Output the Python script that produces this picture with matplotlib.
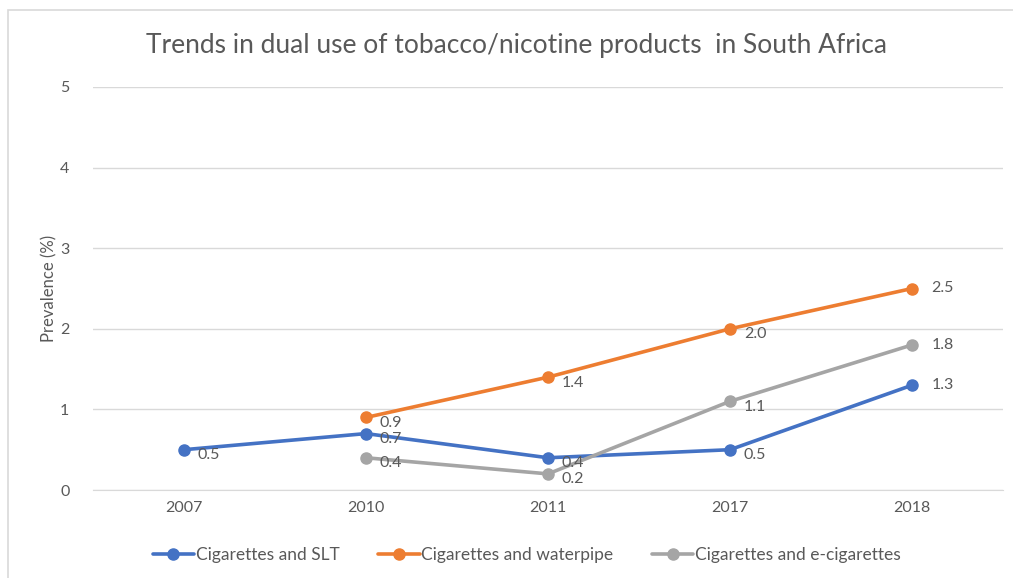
import matplotlib.pyplot as plt
from matplotlib.patches import Rectangle
import numpy as np

years = ['2007', '2010', '2011', '2017', '2018']
slt = [0.5, 0.7, 0.4, 0.5, 1.3]
waterpipe = [None, 0.9, 1.4, 2.0, 2.5]
ecig = [None, 0.4, 0.2, 1.1, 1.8]

series = [
    ('Cigarettes and SLT', slt, '#4472C4'),
    ('Cigarettes and waterpipe', waterpipe, '#ED7D31'),
    ('Cigarettes and e-cigarettes', ecig, '#A5A5A5'),
]

text_col = '#595959'
plt.rcParams['font.family'] = ['Lato', 'DejaVu Sans']

fig = plt.figure(figsize=(10.13, 5.78), dpi=100)
ax = fig.add_axes([93 / 1013, 1 - 490 / 578, 910 / 1013, 403 / 578])

# chart frame like the excel box
fig.patches.append(Rectangle((8 / 1013, -0.02), 1.02, 1 - 10 / 578 + 0.02,
                             transform=fig.transFigure, fill=False,
                             edgecolor='#D9D9D9', lw=1.2))

x = np.arange(len(years))
for name, vals, col in series:
    xs = [i for i, v in zip(x, vals) if v is not None]
    ys = [v for v in vals if v is not None]
    ax.plot(xs, ys, color=col, lw=2.6, marker='o', ms=8, label=name,
            solid_capstyle='round', zorder=3)
    for i, v in zip(xs, ys):
        if i == len(years) - 1:
            off = (14, 0)
        else:
            off = (10, -4)
        ax.annotate('%.1f' % v, (i, v), xytext=off, textcoords='offset points',
                    ha='left', va='center', fontsize=11.5, color=text_col, zorder=4)

ax.set_xlim(-0.5, len(years) - 0.5)
ax.set_ylim(0, 5)
ax.set_xticks(x)
ax.set_xticklabels(years)
ax.set_yticks(range(6))
ax.tick_params(length=0, colors=text_col, labelsize=11.5, pad=8)
ax.tick_params(axis='y', pad=17)
ax.grid(axis='y', color='#D9D9D9', lw=1)
ax.set_axisbelow(True)
for s in ['top', 'right', 'left']:
    ax.spines[s].set_visible(False)
ax.spines['bottom'].set_color('#D9D9D9')

ax.set_ylabel('Prevalence (%)', color=text_col, fontsize=12, labelpad=2)
fig.text(0.51, 1 - 45 / 578, 'Trends in dual use of tobacco/nicotine products  in South Africa',
         ha='center', va='center', fontsize=19, color=text_col)

fig.legend(loc='center', bbox_to_anchor=(0.52, 1 - 555 / 578), ncol=3, frameon=False,
           fontsize=12.5, labelcolor=text_col, handlelength=2.4, columnspacing=2.2,
           handletextpad=0.1)

plt.savefig('out.png', dpi=100)
